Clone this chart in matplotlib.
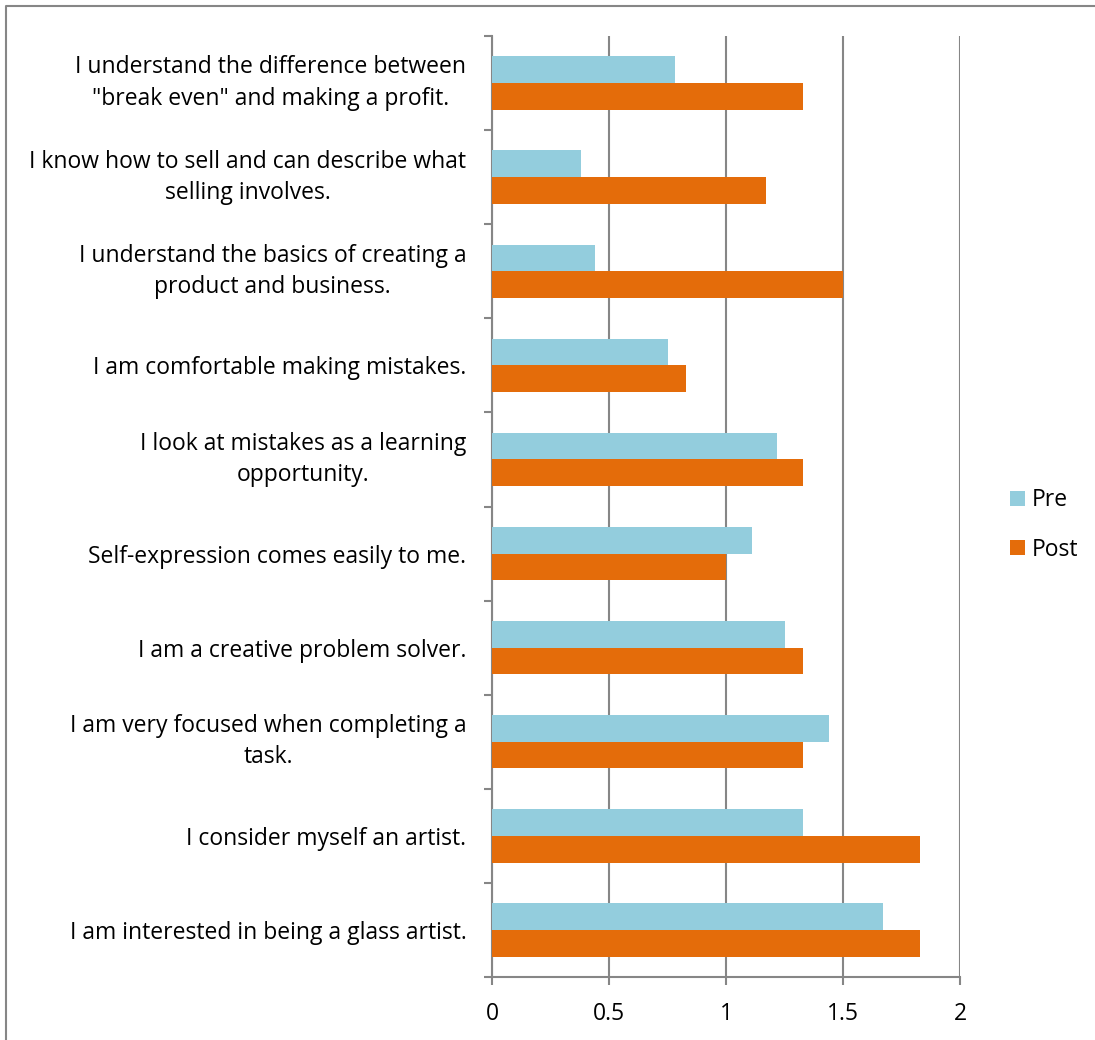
import numpy as np
import matplotlib.pyplot as plt
from matplotlib.lines import Line2D

plt.rcParams['font.family'] = ['Open Sans', 'DejaVu Sans']

# Survey statements (top to bottom as shown)
statements = [
    'I understand the difference between\n"break even" and making a profit.',
    'I know how to sell and can describe what\nselling involves.',
    'I understand the basics of creating a\nproduct and business.',
    'I am comfortable making mistakes.',
    'I look at mistakes as a learning\nopportunity.',
    'Self-expression comes easily to me.',
    'I am a creative problem solver.',
    'I am very focused when completing a\ntask.',
    'I consider myself an artist.',
    'I am interested in being a glass artist.',
]
pre = [0.78, 0.38, 0.44, 0.75, 1.22, 1.11, 1.25, 1.44, 1.33, 1.67]
post = [1.33, 1.17, 1.50, 0.83, 1.33, 1.00, 1.33, 1.33, 1.83, 1.83]
x_ticks = [0, 0.5, 1, 1.5, 2]
x_labels = ['0', '0.5', '1', '1.5', '2']

pre_color = '#93CDDD'
post_color = '#E46C0A'
axis_gray = '#868686'
fs = 16.5

fig = plt.figure(figsize=(10.95, 10.4), dpi=100)
ax = fig.add_axes([492 / 1095, 1 - 977 / 1040, 468 / 1095, 941 / 1040])

n = len(statements)
y = np.arange(n)[::-1]
h = 0.284
ax.barh(y + h / 2, pre, height=h, color=pre_color, label='Pre', zorder=3)
ax.barh(y - h / 2, post, height=h, color=post_color, label='Post', zorder=3)

ax.set_xlim(0, 2)
ax.set_ylim(-0.5, n - 0.5)

ax.set_xticks(x_ticks)
ax.set_xticklabels(x_labels, fontsize=fs)
ax.set_yticks(y)
ax.set_yticklabels(statements, fontsize=fs, ha='right', multialignment='center',
                   linespacing=1.4)
for lbl in ax.get_yticklabels():
    if '\n' in lbl.get_text():
        lbl.set_va('center')
ax.tick_params(axis='y', length=0, pad=18.5)
ax.set_yticks(np.arange(-0.5, n, 1.0), minor=True)
ax.tick_params(axis='y', which='minor', length=6, width=1.5, color=axis_gray, direction='out')
ax.tick_params(axis='x', length=6, width=1.5, color=axis_gray, direction='out', pad=12)

ax.grid(axis='x', color=axis_gray, linewidth=1.5, zorder=0)
for side in ['top', 'right']:
    ax.spines[side].set_visible(False)
for side in ['left', 'bottom']:
    ax.spines[side].set_color(axis_gray)
    ax.spines[side].set_linewidth(1.5)

fig.legend(*ax.get_legend_handles_labels(), loc='center left',
           bbox_to_anchor=(1010 / 1095, 1 - 525 / 1040), bbox_transform=fig.transFigure,
           frameon=False, borderpad=0, borderaxespad=0, fontsize=fs,
           handlelength=0.65, handleheight=0.65, labelspacing=1.1, handletextpad=0.3)

# outer chart border (left and top edges)
fig.lines.append(Line2D([5.5 / 1095, 5.5 / 1095, 1.0], [0, 1 - 6 / 1040, 1 - 6 / 1040],
                        transform=fig.transFigure, color=axis_gray, linewidth=1.5))

fig.savefig('out.png', dpi=100)
